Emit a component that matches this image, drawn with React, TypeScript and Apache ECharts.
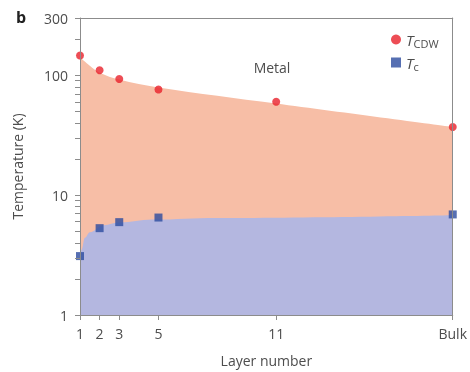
import React, { useEffect, useRef } from "react";
import * as echarts from "echarts";

const layerTicks = [1, 2, 3, 5, 11, 20];
const layerLabels = ["1", "2", "3", "5", "11", "Bulk"];

const tcdwLayers = [1, 2, 3, 5, 11, 20];
const tcdwValues = [146, 110, 93, 76, 60, 37];

const tcLayers = [1, 2, 3, 5, 20];
const tcValues = [3.1, 5.3, 5.95, 6.5, 6.9];

// phase boundaries
const cdwBoundaryLayers = [1, 1.5, 2, 3, 5, 11, 20];
const cdwBoundaryValues = [141, 120, 105, 92, 79, 58, 37];

const scBoundaryLayers = [1, 1.08, 1.25, 1.5, 2.2, 3, 4.7, 8, 20];
const scBoundaryValues = [2.9, 3.5, 4.4, 4.9, 5.6, 5.9, 6.25, 6.45, 6.8];

const yLabelValues = [1, 10, 100, 300];
const yTickValues = [1, 2, 3, 4, 5, 6, 7, 8, 9, 10, 20, 30, 40, 50, 60, 70, 80, 90, 100, 200, 300];

const FONT = "Open Sans";
const TEXT = "#4d4d4d";
const AXIS = "#8c8c8c";

export default function App() {
  const ref = useRef<HTMLDivElement>(null);
  useEffect(() => {
    if (!ref.current) return;
    const chart = echarts.init(ref.current, null, { renderer: "svg" });
    const pair = (xs: number[], ys: number[]) => xs.map((x, i) => [x, ys[i]]);
    chart.setOption({
      animation: false,
      textStyle: { fontFamily: FONT },
      grid: { left: 80, right: 17, top: 18, bottom: 53 },
      legend: {
        orient: "vertical",
        left: 386,
        top: 27,
        itemWidth: 10,
        itemHeight: 10,
        itemGap: 6,
        data: [
          { name: "TCDW", icon: "circle" },
          { name: "Tc", icon: "rect" },
        ],
        formatter: (n: string) => (n === "TCDW" ? "{i|T}{s|CDW}" : "{i|T}{s|c}"),
        textStyle: {
          color: TEXT,
          rich: {
            i: { fontStyle: "italic", fontSize: 15, color: TEXT, fontFamily: FONT },
            s: { fontSize: 11, color: TEXT, fontFamily: FONT, padding: [8, 0, 0, 0] },
          },
        },
      },
      xAxis: [
        {
          type: "value",
          min: 1,
          max: 20,
          z: 10,
          name: "Layer number",
          nameLocation: "middle",
          nameGap: 38,
          nameTextStyle: { color: TEXT, fontSize: 14, fontFamily: FONT },
          axisLine: { show: true, lineStyle: { color: AXIS } },
          axisTick: { show: true, length: 5, lineStyle: { color: AXIS }, customValues: layerTicks },
          axisLabel: {
            color: TEXT,
            fontSize: 14,
            margin: 11,
            customValues: layerTicks,
            formatter: (v: number) => layerLabels[layerTicks.indexOf(v)] ?? "",
          },
          splitLine: { show: false },
        },
        {
          type: "value",
          min: 1,
          max: 20,
          position: "top",
          z: 10,
          axisLine: { show: true, lineStyle: { color: AXIS } },
          axisTick: { show: false },
          axisLabel: { show: false },
          splitLine: { show: false },
        },
      ],
      yAxis: [
        {
          type: "log",
          logBase: 10,
          min: 1,
          max: 300,
          z: 10,
          name: "Temperature (K)",
          nameLocation: "middle",
          nameGap: 56,
          nameTextStyle: { color: TEXT, fontSize: 14, fontFamily: FONT },
          axisLine: { show: true, lineStyle: { color: AXIS } },
          axisTick: { show: true, length: 5, lineStyle: { color: AXIS }, customValues: yTickValues },
          axisLabel: { color: TEXT, fontSize: 14, margin: 12, customValues: yLabelValues },
          splitLine: { show: false },
          minorTick: { show: false },
        },
        {
          type: "log",
          logBase: 10,
          min: 1,
          max: 300,
          position: "right",
          z: 10,
          axisLine: { show: true, lineStyle: { color: AXIS } },
          axisTick: { show: false },
          axisLabel: { show: false },
          splitLine: { show: false },
        },
      ],
      series: [
        {
          name: "CDW region",
          type: "line",
          smooth: 0.35,
          showSymbol: false,
          z: 1,
          lineStyle: { width: 0 },
          areaStyle: { color: "#f7bea6", opacity: 1, origin: "start" },
          data: pair(cdwBoundaryLayers, cdwBoundaryValues),
          silent: true,
        },
        {
          name: "SC region",
          type: "line",
          smooth: 0.4,
          smoothMonotone: "x",
          showSymbol: false,
          z: 2,
          lineStyle: { width: 0 },
          areaStyle: { color: "#b4b7e0", opacity: 1, origin: "start" },
          data: pair(scBoundaryLayers, scBoundaryValues),
          silent: true,
        },
        {
          name: "TCDW",
          type: "scatter",
          symbol: "circle",
          symbolSize: 8,
          z: 5,
          clip: false,
          itemStyle: { color: "#e8212b" },
          data: pair(tcdwLayers, tcdwValues),
        },
        {
          name: "Tc",
          type: "scatter",
          symbol: "rect",
          symbolSize: 8,
          z: 5,
          clip: false,
          itemStyle: { color: "#2c4b9f" },
          data: pair(tcLayers, tcValues),
        },
      ],
      graphic: [
        { type: "text", left: 16, top: 9, style: { text: "b", fontSize: 16, fontWeight: "bold", fill: "#222", fontFamily: FONT } },
        { type: "text", x: 272, y: 67, style: { text: "Metal", fontSize: 14, fill: TEXT, fontFamily: FONT, align: "center", verticalAlign: "middle" } },
        { type: "text", x: 195, y: 159, style: { text: "CDW", fontSize: 14, fill: TEXT, fontFamily: FONT, align: "center", verticalAlign: "middle" } },
        { type: "text", x: 276, y: 278, style: { text: "SC", fontSize: 14, fill: TEXT, fontFamily: FONT, align: "center", verticalAlign: "middle" } },
      ],
    });
    return () => chart.dispose();
  }, []);
  return <div ref={ref} style={{ position: "fixed", left: 0, top: 0, width: 470, height: 372 }} />;
}
